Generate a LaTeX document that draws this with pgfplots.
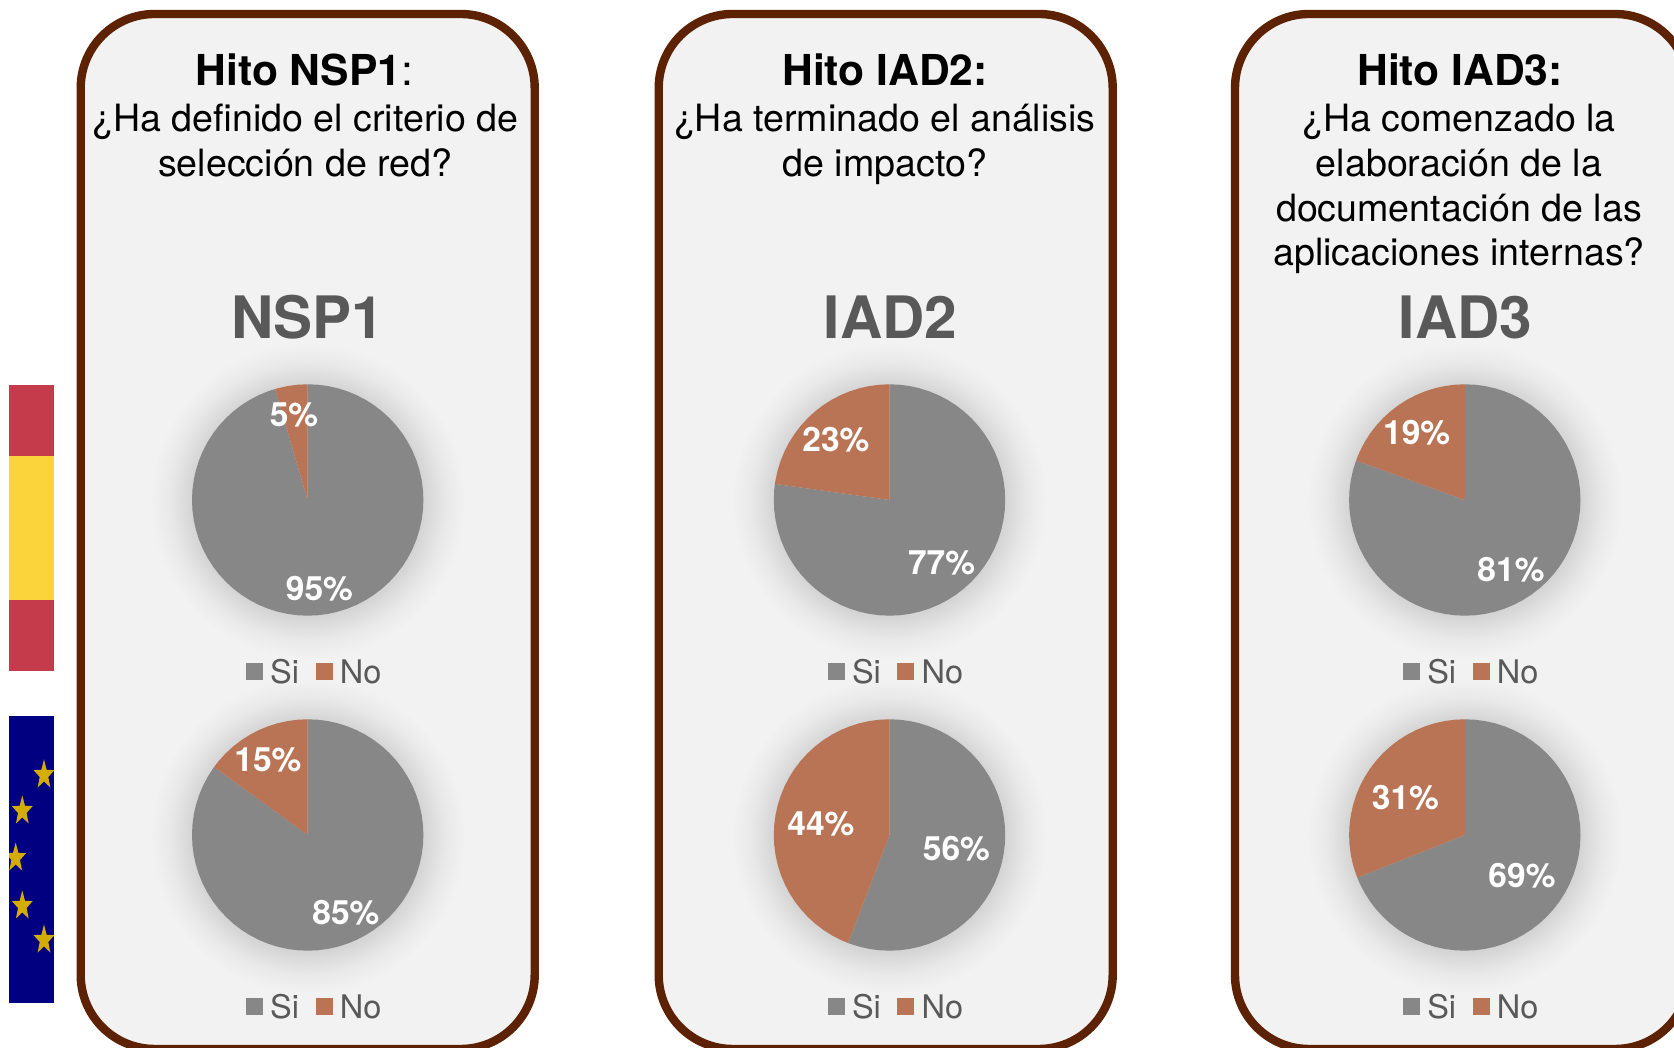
\documentclass[border=0pt]{standalone}
\usepackage{fontspec}
\setmainfont{TeX Gyre Heros}
\usepackage{pgfplots}
\pgfplotsset{compat=1.18}
\usepgfplotslibrary{polar}
\usetikzlibrary{shapes.geometric}

\definecolor{siGray}{HTML}{878787}
\definecolor{noBrown}{HTML}{B97455}
\definecolor{frame}{HTML}{5C2203}
\definecolor{panel}{HTML}{F2F2F2}
\definecolor{txtGray}{HTML}{595959}
\definecolor{flagRed}{HTML}{C53B4C}
\definecolor{flagYellow}{HTML}{FBD33A}
\definecolor{euBlue}{HTML}{000080}
\definecolor{euStar}{HTML}{D4AC00}
\definecolor{glowA}{HTML}{D4D4D4}
\definecolor{glowB}{HTML}{DEDEDE}
\definecolor{glowC}{HTML}{E9E9E9}

\pgfdeclareradialshading{glow}{\pgfpoint{0bp}{0bp}}{%
  color(0bp)=(glowA); color(18.3bp)=(glowA); color(20bp)=(glowB);
  color(22bp)=(glowC); color(25bp)=(panel); color(50bp)=(panel)}

\pgfplotsset{
  pie/.style={
    at={(#1)}, anchor=center,
    scale only axis, width=231.4pt, height=231.4pt,
    xmin=0, xmax=360, ymin=0, ymax=1,
    hide axis, clip=false,
    legend columns=2,
    legend style={draw=none, fill=none, inner sep=0pt, outer sep=0pt,
      at={(0.2334,-0.19)}, anchor=north west,
      font=\fontsize{32.5}{38}\selectfont, text=txtGray,
      nodes={inner sep=0pt},
      /tikz/every even column/.style={column sep=16.5pt},
      /tikz/every odd column/.style={column sep=7.2pt}},
    legend image code/.code={\fill[##1] (0pt,-7.3pt) rectangle (17pt,9.7pt);},
  },
  si/.style={fill=siGray, draw=none},
  no/.style={fill=noBrown, draw=none},
}

\tikzset{
  hito/.style={anchor=base, font=\fontsize{42.6}{50}\selectfont, text=black},
  ask/.style={anchor=base, font=\fontsize{37.6}{44}\selectfont, text=black},
  big/.style={anchor=base, font=\fontsize{58.5}{68}\selectfont\bfseries, text=txtGray},
  pct/.style={anchor=center, font=\fontsize{33.5}{38}\selectfont\bfseries, text=white},
}

\begin{document}
\begin{tikzpicture}
\useasboundingbox (0pt,0pt) rectangle (1674pt,1048pt);

\begin{scope}[x=1pt,y=-1pt,yshift=1048pt]
  % flags
  \fill[flagRed] (9,385) rectangle (54,671);
  \fill[flagYellow] (9,456) rectangle (54,600);
  \begin{scope}
    \clip (9,716) rectangle (54,1003);
    \fill[euBlue] (9,716) rectangle (54,1003);
    \foreach \sx/\sy in {44/775,22.3/811,15.7/858,22.3/906,44/940}
      \node[star, star points=5, star point ratio=2.4, fill=euStar, inner sep=0pt, minimum size=31pt, xscale=0.7] at (\sx,\sy) {};
  \end{scope}
  % panels
  \foreach \px in {80.7,658.7,1235}
    \draw[line width=8.4pt, draw=frame, fill=panel, rounded corners=74pt] (\px,14) rectangle ++(454,1035);
  % soft shadow round the pies
  \foreach \gx in {307.7,889.5,1464.8}
    \foreach \gy in {501,836}
      \shade[shading=glow] (\gx,\gy) circle (158);
\end{scope}

% NSP1 top
\begin{polaraxis}[pie={307.7pt,548pt}]
\addplot[si] coordinates {(106.4,1)(110,1)(115,1)(120,1)(125,1)(130,1)(135,1)(140,1)(145,1)(150,1)(155,1)(160,1)(165,1)(170,1)(175,1)(180,1)(185,1)(190,1)(195,1)(200,1)(205,1)(210,1)(215,1)(220,1)(225,1)(230,1)(235,1)(240,1)(245,1)(250,1)(255,1)(260,1)(265,1)(270,1)(275,1)(280,1)(285,1)(290,1)(295,1)(300,1)(305,1)(310,1)(315,1)(320,1)(325,1)(330,1)(335,1)(340,1)(345,1)(350,1)(355,1)(360,1)(365,1)(370,1)(375,1)(380,1)(385,1)(390,1)(395,1)(400,1)(405,1)(410,1)(415,1)(420,1)(425,1)(430,1)(435,1)(440,1)(445,1)(450,1)(90,0)};
\addlegendentry{Si}
\addplot[no] coordinates {(90,0)(90,1)(95,1)(100,1)(105,1)(106.4,1)};
\addlegendentry{No}
\end{polaraxis}

% NSP1 bottom
\begin{polaraxis}[pie={307.7pt,213pt}]
\addplot[si] coordinates {(144,1)(145,1)(150,1)(155,1)(160,1)(165,1)(170,1)(175,1)(180,1)(185,1)(190,1)(195,1)(200,1)(205,1)(210,1)(215,1)(220,1)(225,1)(230,1)(235,1)(240,1)(245,1)(250,1)(255,1)(260,1)(265,1)(270,1)(275,1)(280,1)(285,1)(290,1)(295,1)(300,1)(305,1)(310,1)(315,1)(320,1)(325,1)(330,1)(335,1)(340,1)(345,1)(350,1)(355,1)(360,1)(365,1)(370,1)(375,1)(380,1)(385,1)(390,1)(395,1)(400,1)(405,1)(410,1)(415,1)(420,1)(425,1)(430,1)(435,1)(440,1)(445,1)(450,1)(90,0)};
\addlegendentry{Si}
\addplot[no] coordinates {(90,0)(90,1)(95,1)(100,1)(105,1)(110,1)(115,1)(120,1)(125,1)(130,1)(135,1)(140,1)(144,1)};
\addlegendentry{No}
\end{polaraxis}

% IAD2 top
\begin{polaraxis}[pie={889.5pt,548pt}]
\addplot[si] coordinates {(172,1)(175,1)(180,1)(185,1)(190,1)(195,1)(200,1)(205,1)(210,1)(215,1)(220,1)(225,1)(230,1)(235,1)(240,1)(245,1)(250,1)(255,1)(260,1)(265,1)(270,1)(275,1)(280,1)(285,1)(290,1)(295,1)(300,1)(305,1)(310,1)(315,1)(320,1)(325,1)(330,1)(335,1)(340,1)(345,1)(350,1)(355,1)(360,1)(365,1)(370,1)(375,1)(380,1)(385,1)(390,1)(395,1)(400,1)(405,1)(410,1)(415,1)(420,1)(425,1)(430,1)(435,1)(440,1)(445,1)(450,1)(90,0)};
\addlegendentry{Si}
\addplot[no] coordinates {(90,0)(90,1)(95,1)(100,1)(105,1)(110,1)(115,1)(120,1)(125,1)(130,1)(135,1)(140,1)(145,1)(150,1)(155,1)(160,1)(165,1)(170,1)(172,1)};
\addlegendentry{No}
\end{polaraxis}

% IAD2 bottom
\begin{polaraxis}[pie={889.5pt,213pt}]
\addplot[si] coordinates {(249,1)(250,1)(255,1)(260,1)(265,1)(270,1)(275,1)(280,1)(285,1)(290,1)(295,1)(300,1)(305,1)(310,1)(315,1)(320,1)(325,1)(330,1)(335,1)(340,1)(345,1)(350,1)(355,1)(360,1)(365,1)(370,1)(375,1)(380,1)(385,1)(390,1)(395,1)(400,1)(405,1)(410,1)(415,1)(420,1)(425,1)(430,1)(435,1)(440,1)(445,1)(450,1)(90,0)};
\addlegendentry{Si}
\addplot[no] coordinates {(90,0)(90,1)(95,1)(100,1)(105,1)(110,1)(115,1)(120,1)(125,1)(130,1)(135,1)(140,1)(145,1)(150,1)(155,1)(160,1)(165,1)(170,1)(175,1)(180,1)(185,1)(190,1)(195,1)(200,1)(205,1)(210,1)(215,1)(220,1)(225,1)(230,1)(235,1)(240,1)(245,1)(249,1)};
\addlegendentry{No}
\end{polaraxis}

% IAD3 top
\begin{polaraxis}[pie={1464.8pt,548pt}]
\addplot[si] coordinates {(160,1)(165,1)(170,1)(175,1)(180,1)(185,1)(190,1)(195,1)(200,1)(205,1)(210,1)(215,1)(220,1)(225,1)(230,1)(235,1)(240,1)(245,1)(250,1)(255,1)(260,1)(265,1)(270,1)(275,1)(280,1)(285,1)(290,1)(295,1)(300,1)(305,1)(310,1)(315,1)(320,1)(325,1)(330,1)(335,1)(340,1)(345,1)(350,1)(355,1)(360,1)(365,1)(370,1)(375,1)(380,1)(385,1)(390,1)(395,1)(400,1)(405,1)(410,1)(415,1)(420,1)(425,1)(430,1)(435,1)(440,1)(445,1)(450,1)(90,0)};
\addlegendentry{Si}
\addplot[no] coordinates {(90,0)(90,1)(95,1)(100,1)(105,1)(110,1)(115,1)(120,1)(125,1)(130,1)(135,1)(140,1)(145,1)(150,1)(155,1)(160,1)};
\addlegendentry{No}
\end{polaraxis}

% IAD3 bottom
\begin{polaraxis}[pie={1464.8pt,213pt}]
\addplot[si] coordinates {(201.6,1)(205,1)(210,1)(215,1)(220,1)(225,1)(230,1)(235,1)(240,1)(245,1)(250,1)(255,1)(260,1)(265,1)(270,1)(275,1)(280,1)(285,1)(290,1)(295,1)(300,1)(305,1)(310,1)(315,1)(320,1)(325,1)(330,1)(335,1)(340,1)(345,1)(350,1)(355,1)(360,1)(365,1)(370,1)(375,1)(380,1)(385,1)(390,1)(395,1)(400,1)(405,1)(410,1)(415,1)(420,1)(425,1)(430,1)(435,1)(440,1)(445,1)(450,1)(90,0)};
\addlegendentry{Si}
\addplot[no] coordinates {(90,0)(90,1)(95,1)(100,1)(105,1)(110,1)(115,1)(120,1)(125,1)(130,1)(135,1)(140,1)(145,1)(150,1)(155,1)(160,1)(165,1)(170,1)(175,1)(180,1)(185,1)(190,1)(195,1)(200,1)(201.6,1)};
\addlegendentry{No}
\end{polaraxis}

\begin{scope}[x=1pt,y=-1pt,yshift=1048pt]
  % panel headings
  \node[hito] at (304.3,86) {\textbf{Hito NSP1}:};
  \node[ask] at (305.3,132) {¿Ha definido el criterio de};
  \node[ask] at (305.3,177) {selección de red?};
  \node[hito] at (885,86) {\textbf{Hito IAD2:}};
  \node[ask] at (884.8,132) {¿Ha terminado el análisis};
  \node[ask] at (884.8,177) {de impacto?};
  \node[hito] at (1460,86) {\textbf{Hito IAD3:}};
  \node[ask] at (1459,132) {¿Ha comenzado la};
  \node[ask] at (1459,177) {elaboración de la};
  \node[ask] at (1459,221.5) {documentación de las};
  \node[ask] at (1459,266) {aplicaciones internas?};
  % chart titles
  \node[big] at (308,339) {NSP1};
  \node[big] at (890.5,339) {IAD2};
  \node[big] at (1465.5,339) {IAD3};
  % data labels
  \node[pct] at (294,415) {5\%};
  \node[pct] at (319.5,589) {95\%};
  \node[pct] at (268,760) {15\%};
  \node[pct] at (346,913) {85\%};
  \node[pct] at (836,440) {23\%};
  \node[pct] at (941.6,562.6) {77\%};
  \node[pct] at (821,824) {44\%};
  \node[pct] at (956.5,848.7) {56\%};
  \node[pct] at (1416.7,432.4) {19\%};
  \node[pct] at (1511,570) {81\%};
  \node[pct] at (1405.5,797.5) {31\%};
  \node[pct] at (1522,875.4) {69\%};
\end{scope}
\end{tikzpicture}
\end{document}
